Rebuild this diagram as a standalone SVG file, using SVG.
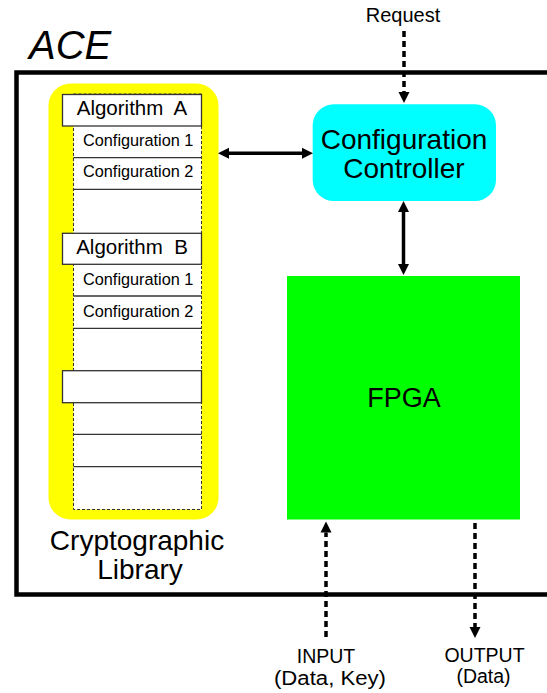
<svg xmlns="http://www.w3.org/2000/svg" width="547" height="693" viewBox="0 0 547 693">
<defs>
<style>
text{font-family:"Liberation Sans",Arial,sans-serif;fill:#000}
.alg{font-size:20.5px;text-anchor:middle;white-space:pre}
.cfg{font-size:16.3px}
.lbl{font-size:19.5px;text-anchor:middle}
.big{font-size:28px;text-anchor:middle}
.row{stroke:#333;stroke-width:1.3;fill:#fff}
.conn{stroke:#000;stroke-width:3.5;fill:none}
.dash{stroke-dasharray:6 4}
</style>
<marker id="ah" markerUnits="userSpaceOnUse" markerWidth="12" markerHeight="12" viewBox="0 -6 12 12" refX="0" refY="0" orient="auto-start-reverse">
<path d="M0,-5.5 L11,0 L0,5.5 z" fill="#000"/>
</marker>
</defs>
<rect width="547" height="693" fill="#fff"/>
<g id="ace">
<rect x="16.5" y="72.5" width="600" height="522" fill="none" stroke="#000" stroke-width="4.5"/>
<text x="29" y="59" font-size="40" font-style="italic">ACE</text>
</g>
<g id="library">
<rect x="48.5" y="83.5" width="170" height="436" rx="22" fill="#ffff00"/>
<rect x="73.5" y="94" width="128" height="415.5" fill="#fff" stroke="#333" stroke-width="1" stroke-dasharray="3 2"/>
<rect class="row" x="62.5" y="94.5" width="139" height="31.5"/>
<text class="alg" x="132" y="115" xml:space="preserve">Algorithm  A</text>
<text class="cfg" x="83" y="146">Configuration 1</text>
<line class="row" x1="73.5" y1="157.7" x2="201.5" y2="157.7"/>
<text class="cfg" x="83" y="177">Configuration 2</text>
<line class="row" x1="73.5" y1="189.3" x2="201.5" y2="189.3"/>
<rect class="row" x="62.5" y="233.3" width="139" height="31"/>
<text class="alg" x="132" y="254" xml:space="preserve">Algorithm  B</text>
<text class="cfg" x="83" y="285">Configuration 1</text>
<line class="row" x1="73.5" y1="296" x2="201.5" y2="296"/>
<text class="cfg" x="83" y="316.5">Configuration 2</text>
<line class="row" x1="73.5" y1="328.3" x2="201.5" y2="328.3"/>
<rect class="row" x="62.5" y="370.7" width="139" height="32"/>
<line class="row" x1="73.5" y1="434.3" x2="201.5" y2="434.3"/>
<line class="row" x1="73.5" y1="466.7" x2="201.5" y2="466.7"/>
<text class="big" x="137" y="550">Cryptographic</text>
<text class="big" x="140" y="578.5">Library</text>
</g>
<g id="controller">
<rect x="312.7" y="104.3" width="183.3" height="96.7" rx="21" fill="#00ffff"/>
<text x="404" y="149" font-size="28" text-anchor="middle">Configuration</text>
<text x="404" y="178" font-size="28" text-anchor="middle">Controller</text>
</g>
<g id="fpga">
<rect x="287" y="276" width="233" height="243.5" fill="#00ff00"/>
<text x="404" y="407" font-size="27" text-anchor="middle">FPGA</text>
</g>
<g id="labels">
<text x="403" y="22" font-size="20" text-anchor="middle">Request</text>
<text class="lbl" x="326" y="663">INPUT</text>
<text class="lbl" x="330" y="684.5" textLength="112" lengthAdjust="spacingAndGlyphs">(Data, Key)</text>
<text class="lbl" x="484.5" y="662">OUTPUT</text>
<text class="lbl" x="483.5" y="683">(Data)</text>
</g>
<g id="connectors">
<line class="conn dash" x1="404" y1="31" x2="404" y2="92" marker-end="url(#ah)"/>
<line class="conn" x1="229" y1="153.3" x2="302" y2="153.3" marker-start="url(#ah)" marker-end="url(#ah)"/>
<line class="conn" x1="403.5" y1="212" x2="403.5" y2="264" marker-start="url(#ah)" marker-end="url(#ah)"/>
<line class="conn dash" x1="326" y1="637" x2="326" y2="532.5" marker-end="url(#ah)"/>
<line class="conn dash" x1="475" y1="523" x2="475" y2="627" marker-end="url(#ah)"/>
</g>
</svg>
